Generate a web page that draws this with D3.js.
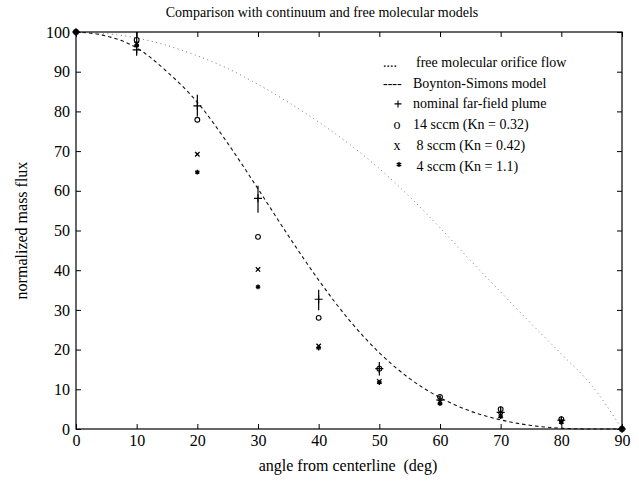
<!DOCTYPE html>
<html>
<head>
<meta charset="utf-8">
<script src="https://cdn.jsdelivr.net/npm/d3@7"></script>
<style>
  html, body { margin: 0; padding: 0; background: #fff; }
  svg text { font-family: "Liberation Serif", "Times New Roman", serif; fill: #000; }
</style>
</head>
<body>
<svg id="chart" width="639" height="487"></svg>
<script>
// ---------------- data ----------------
const titleText = "Comparison with continuum and free molecular models";
const xLabel = "angle from centerline  (deg)";
const yLabel = "normalized mass flux";
const xTicks = [0, 10, 20, 30, 40, 50, 60, 70, 80, 90];
const yTicks = [0, 10, 20, 30, 40, 50, 60, 70, 80, 90, 100];

// model curves (read every 5 degrees)
const curveAngles = [0, 5, 10, 15, 20, 25, 30, 35, 40, 45, 50, 55, 60, 65, 70, 75, 80, 85, 90];
const freeMolecular = [100, 99.6, 98.5, 96.6, 94, 90.8, 86.8, 82.3, 77.3, 71.8, 65.6, 58.5, 50.7, 42.5, 34.5, 26.6, 18.9, 11.0, 0];
const boyntonSimons = [100, 99, 96, 90, 82.3, 72, 60.5, 48.7, 37.5, 27.5, 19.2, 12.7, 7.9, 4.5, 2.3, 0.9, 0.2, 0, 0];

// measured data
const angles = [0, 10, 20, 30, 40, 50, 60, 70, 80, 90];
const plume = [100, 95.5, 81.4, 58.1, 32.7, 15.2, 7.3, 4.2, 2.2, 0];
const plumeLow = [100, 94, 78.7, 54.5, 29.9, 13.5, 6.3, 2.6, 1.2, 0];
const plumeHigh = [100, 100, 84.2, 61.3, 35.1, 16.9, 8.5, 5.6, 3.0, 0];
const sccm14 = [100, 98, 77.9, 48.4, 28.0, 15.2, 8.1, 5.0, 2.5, 0];
const sccm8 = [100, 97, 69.2, 40.2, 20.9, 12.0, 6.8, 3.4, 1.9, 0];
const sccm4 = [100, 96.6, 64.7, 35.8, 20.4, 11.7, 6.4, 3.1, 1.7, 0];

const legendSymbols = ["....", "----", "+", "o", "x", "*"];
const legendLabels = ["free molecular orifice flow", "Boynton-Simons model", "nominal far-field plume",
                      "14 sccm (Kn = 0.32)", " 8 sccm (Kn = 0.42)", " 4 sccm (Kn = 1.1)"];

// ---------------- drawing ----------------
const svg = d3.select("#chart");
const L = 76, R = 622, T = 32, B = 429;
const x = d3.scaleLinear().domain([0, 90]).range([L, R]);
const y = d3.scaleLinear().domain([0, 100]).range([B, T]);

// frame
svg.append("rect").attr("x", L).attr("y", T).attr("width", R - L).attr("height", B - T)
  .attr("fill", "none").attr("stroke", "#000").attr("stroke-width", 1.2);

const fs = "14px", tickFs = "16px";
const gB = svg.append("g").attr("transform", `translate(0,${B})`)
  .call(d3.axisBottom(x).tickValues(xTicks).tickSize(-5).tickPadding(6));
const gT = svg.append("g").attr("transform", `translate(0,${T})`)
  .call(d3.axisTop(x).tickValues(xTicks).tickSize(-5).tickFormat(""));
const gL = svg.append("g").attr("transform", `translate(${L},0)`)
  .call(d3.axisLeft(y).tickValues(yTicks).tickSize(-5).tickPadding(6));
const gR = svg.append("g").attr("transform", `translate(${R},0)`)
  .call(d3.axisRight(y).tickValues(yTicks).tickSize(-5).tickFormat(""));
[gB, gT, gL, gR].forEach(g => {
  g.select(".domain").remove();
  g.selectAll("line").attr("stroke", "#000");
  g.selectAll("text").attr("font-size", tickFs).attr("font-family", "Liberation Serif").attr("fill", "#000");
});

// curves
const line = d3.line().x(d => x(d[0])).y(d => y(d[1])).curve(d3.curveMonotoneX);
svg.append("path").datum(curveAngles.map((a, i) => [a, freeMolecular[i]]))
  .attr("d", line).attr("fill", "none").attr("stroke", "#777").attr("stroke-width", 1)
  .attr("stroke-dasharray", "1,3.5");
svg.append("path").datum(curveAngles.map((a, i) => [a, boyntonSimons[i]]))
  .attr("d", line).attr("fill", "none").attr("stroke", "#111").attr("stroke-width", 1.1)
  .attr("stroke-dasharray", "3.5,3");

// error bars for nominal plume
svg.append("g").selectAll("line").data(angles).join("line")
  .attr("x1", d => x(d)).attr("x2", d => x(d))
  .attr("y1", (d, i) => y(plumeLow[i])).attr("y2", (d, i) => y(plumeHigh[i]))
  .attr("stroke", "#000").attr("stroke-width", 1.2);

// markers
function plus(g, cx, cy, s) {
  g.append("path").attr("d", `M${cx - s},${cy}H${cx + s}M${cx},${cy - s}V${cy + s}`)
    .attr("stroke", "#000").attr("stroke-width", 1.1).attr("fill", "none");
}
function cross(g, cx, cy, s) {
  g.append("path").attr("d", `M${cx - s},${cy - s}L${cx + s},${cy + s}M${cx - s},${cy + s}L${cx + s},${cy - s}`)
    .attr("stroke", "#000").attr("stroke-width", 1.3).attr("fill", "none");
}
function star(g, cx, cy, s) {
  const a = s * 0.87, b = s * 0.5;
  g.append("path").attr("d", `M${cx},${cy - s}V${cy + s}M${cx - a},${cy - b}L${cx + a},${cy + b}M${cx - a},${cy + b}L${cx + a},${cy - b}`)
    .attr("stroke", "#000").attr("stroke-width", 1.4).attr("fill", "none");
}
function circ(g, cx, cy, r) {
  g.append("circle").attr("cx", cx).attr("cy", cy).attr("r", r)
    .attr("fill", "none").attr("stroke", "#000").attr("stroke-width", 1.1);
}
const gm = svg.append("g");
angles.forEach((a, i) => {
  plus(gm, x(a), y(plume[i]), 4);
  circ(gm, x(a), y(sccm14[i]), 2.4);
  cross(gm, x(a), y(sccm8[i]), 2.2);
  star(gm, x(a), y(sccm4[i]), 2.4);
});

// legend
const lg = svg.append("g");
const rowY = d => 67 + d * 20.7;
legendSymbols.forEach((s, i) => {
  const yy = rowY(i);
  if (s === "...." || s === "----") {
    lg.append("text").attr("x", 383).attr("y", yy).attr("font-size", fs).text(s);
  } else if (s === "+") {
    plus(lg, 398, yy - 4.5, 3.5);
  } else if (s === "o") {
    lg.append("text").attr("x", 397).attr("y", yy).attr("font-size", fs).attr("text-anchor", "middle").text("o");
  } else if (s === "x") {
    lg.append("text").attr("x", 397).attr("y", yy).attr("font-size", fs).attr("text-anchor", "middle").text("x");
  } else {
    star(lg, 399, yy - 6, 2.6);
  }
  lg.append("text").attr("x", i === 0 ? 416 : 413).attr("y", yy).attr("font-size", fs)
    .style("white-space", "pre").text(legendLabels[i]);
});

// title and axis labels
svg.append("text").attr("x", 322).attr("y", 17).attr("text-anchor", "middle")
  .attr("font-size", fs).text(titleText);
svg.append("text").attr("x", 348).attr("y", 471).attr("text-anchor", "middle")
  .attr("font-size", tickFs).style("white-space", "pre").text(xLabel);
svg.append("text").attr("transform", `translate(27,${(T + B) / 2}) rotate(-90)`)
  .attr("text-anchor", "middle").attr("font-size", tickFs).text(yLabel);
</script>
</body>
</html>
